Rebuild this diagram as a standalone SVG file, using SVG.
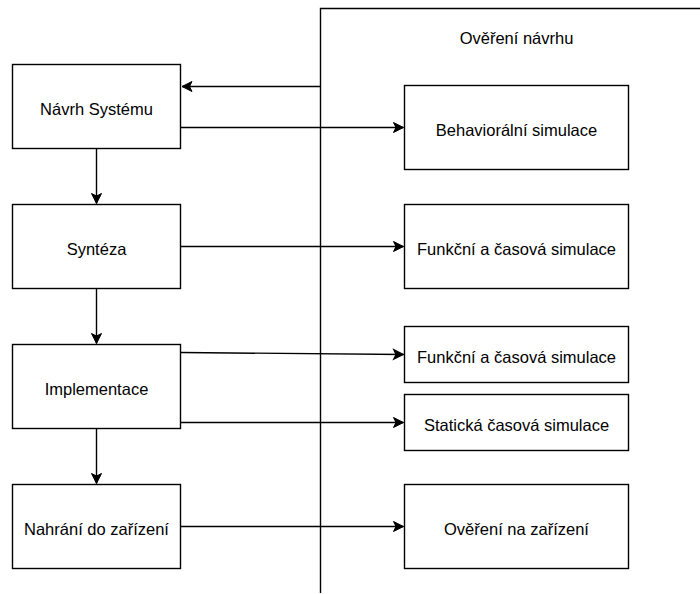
<svg xmlns="http://www.w3.org/2000/svg" width="700" height="594" viewBox="0 0 700 594">
<style>
.box{fill:#fff;stroke:#000;stroke-width:1.4}
.t{font-family:"Liberation Sans",Arial,sans-serif;font-size:16.5px;fill:#000;text-anchor:middle}
.ln{fill:none;stroke:#000;stroke-width:1.4}
.c{fill:none;stroke:#000;stroke-width:1.4;marker-end:url(#arr)}
</style>
<defs>
<marker id="arr" markerUnits="userSpaceOnUse" markerWidth="14" markerHeight="12" viewBox="-11 -6 12 12" refX="0" refY="0" orient="auto" overflow="visible">
<path d="M0,0 L-10,-5 L-7.5,0 L-10,5 Z" fill="#000" stroke="#000" stroke-width="1"/>
</marker>
</defs>
<rect width="700" height="594" fill="#fff"/>
<g id="frame">
<path class="ln" d="M320.5,593 L320.5,8.5 L700,8.5"/>
<text class="t" x="516.5" y="44">Ověření návrhu</text>
</g>
<g id="connectors">
<path class="c" d="M320.5,86.5 L182,86.5"/>
<path class="c" d="M180.5,127.5 L403.5,127.5"/>
<path class="c" d="M96.5,148.5 L96.5,203.5"/>
<path class="c" d="M180.5,246.5 L403.5,246.5"/>
<path class="c" d="M96.5,288.5 L96.5,343.5"/>
<path class="c" d="M180.5,352.5 L403.5,354.5"/>
<path class="c" d="M180.5,422.5 L403.5,422.5"/>
<path class="c" d="M96.5,428.5 L96.5,483.5"/>
<path class="c" d="M180.5,526.5 L403.5,526.5"/>
</g>
<g id="navrh">
<rect class="box" x="12.5" y="64.5" width="168" height="84"/>
<text class="t" x="96.5" y="114.5">Návrh Systému</text>
</g>
<g id="synteza">
<rect class="box" x="12.5" y="204.5" width="168" height="84"/>
<text class="t" x="96.5" y="254.5">Syntéza</text>
</g>
<g id="implementace">
<rect class="box" x="12.5" y="344.5" width="168" height="84"/>
<text class="t" x="96.5" y="394.5">Implementace</text>
</g>
<g id="nahrani">
<rect class="box" x="12.5" y="484.5" width="168" height="84"/>
<text class="t" x="96.5" y="534.5">Nahrání do zařízení</text>
</g>
<g id="behav">
<rect class="box" x="404.5" y="85.5" width="224" height="84"/>
<text class="t" x="516.5" y="135.5">Behaviorální simulace</text>
</g>
<g id="funkcni1">
<rect class="box" x="404.5" y="204.5" width="224" height="84"/>
<text class="t" x="516.5" y="254.5">Funkční a časová simulace</text>
</g>
<g id="funkcni2">
<rect class="box" x="404.5" y="326.5" width="224" height="56"/>
<text class="t" x="516.5" y="362.5">Funkční a časová simulace</text>
</g>
<g id="staticka">
<rect class="box" x="404.5" y="394.5" width="224" height="56"/>
<text class="t" x="516.5" y="430.5">Statická časová simulace</text>
</g>
<g id="overeni">
<rect class="box" x="404.5" y="484.5" width="224" height="84"/>
<text class="t" x="516.5" y="534.5">Ověření na zařízení</text>
</g>
</svg>
